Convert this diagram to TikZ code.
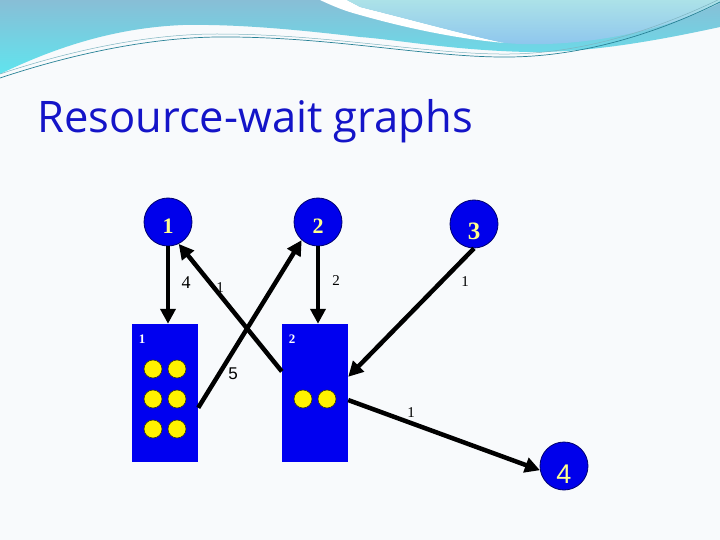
\documentclass[tikz,border=0pt]{standalone}
\usepackage{fontspec}
\setmainfont{Liberation Serif}
\newfontfamily\titlefont{Open Sans}
\newfontfamily\sansnum{Liberation Sans}
\usetikzlibrary{arrows.meta,calc}
\definecolor{bgc}{RGB}{248,250,252}
\definecolor{titleblue}{RGB}{20,20,200}
\definecolor{procblue}{RGB}{0,0,235}
\definecolor{resblue}{RGB}{0,0,240}
\definecolor{numyellow}{RGB}{255,255,140}
\definecolor{waveA}{RGB}{136,190,214}
\definecolor{waveB}{RGB}{96,228,238}
\definecolor{blobA}{RGB}{172,226,232}
\definecolor{blobB}{RGB}{140,196,238}
\definecolor{linec}{RGB}{40,130,150}
\tikzset{
  proc/.style={circle, fill=procblue, draw={rgb,255:red,0;green,0;blue,110}, line width=0.8pt, minimum size=48pt, inner sep=0pt},
  ctext/.style={text=numyellow, inner sep=0pt, font=\bfseries\fontsize{22}{22}\selectfont},
  res/.style={rectangle, fill=resblue, minimum width=66pt, minimum height=138pt, inner sep=0pt},
  edge/.style={line width=4.5pt, -{Triangle[length=15pt,width=15pt]}},
  lab/.style={font=\fontsize{15}{15}\selectfont, inner sep=0pt},
  biglab/.style={font=\fontsize{18}{18}\selectfont, inner sep=0pt},
  reslab/.style={font=\bfseries\fontsize{13}{13}\selectfont, text=white, inner sep=0pt},
  dot/.style={fill=yellow, draw={rgb,255:red,60;green,60;blue,0}, line width=0.6pt}
}
\begin{document}
\begin{tikzpicture}[x=1pt,y=-1pt]
\useasboundingbox (0,0) rectangle (720,540);
\fill[bgc] (0,0) rectangle (720,540);
% top wave
\shade[top color=waveA, bottom color=waveB]
  (0,0) -- (720,0) -- (720,27)
  .. controls (660,40) and (590,53) .. (527,52)
  .. controls (450,50) and (400,40) .. (360,37)
  .. controls (300,30) and (240,24) .. (183,25)
  .. controls (110,28) and (50,50) .. (0,74) -- cycle;
\fill[white] (320,0) .. controls (335,7) and (345,11) .. (360,15)
  .. controls (420,32) and (470,40) .. (505,43)
  .. controls (470,36) and (420,22) .. (360,7)
  .. controls (355,4) and (350,2) .. (347,0) -- cycle;
\shade[top color=blobA, bottom color=blobB]
  (347,0) .. controls (350,2) and (355,4) .. (360,7)
  .. controls (420,22) and (470,36) .. (505,43)
  .. controls (560,48) and (650,38) .. (720,3) -- (720,0) -- cycle;
\draw[linec, line width=0.7pt] (0,78) .. controls (60,58) and (140,38) .. (217,37)
  .. controls (330,36) and (430,58) .. (510,57) .. controls (600,56) and (680,22) .. (720,2);
\draw[linec!60, line width=0.5pt] (0,74) .. controls (60,54) and (140,34) .. (217,34)
  .. controls (330,34) and (430,55) .. (510,54) .. controls (600,53) and (680,18) .. (720,-1);
% title
\node[anchor=base west, inner sep=0pt, text=titleblue, font=\titlefont\fontsize{43.5}{43.5}\selectfont] (title) at (37,133) {Resource-wait graphs};
% processes
\node[proc] (c1) at (168,222) {};
\node[proc] (c2) at (318,222) {};
\node[proc] (c3) at (474,224) {};
\node[proc] (c4) at (564,466) {};
\node[ctext] (t1) at (168,226) {1};
\node[ctext] (t2) at (318,226) {2};
\node[ctext, font=\bfseries\fontsize{25}{25}\selectfont] (t3) at (474,231) {3};
\node[ctext, font=\sansnum\fontsize{27}{27}\selectfont] (t4) at (564,474) {4};
% resources
\node[res] (r1) at (165,393) {};
\node[res] (r2) at (315,393) {};
\node[reslab] (r1l) at (142,339) {1};
\node[reslab] (r2l) at (292,339) {2};
\foreach \yy in {369,399,429}{
  \draw[dot] (153,\yy) circle (9);
  \draw[dot] (177,\yy) circle (9);
}
\draw[dot] (303,399) circle (9);
\draw[dot] (327,399) circle (9);
% edges
\draw[edge] (c1.south) -- (c1.south |- r1.north);
\draw[edge] (c2.south) -- (c2.south |- r2.north);
\draw[edge] (r2.147) -- (c1.-64);
\draw[edge] (r1.-24) -- (c2.-132);
\draw[edge] (c3.south) -- (r2.26);
\draw[edge] (r2.-12) -- (c4.190);
% edge labels
\node[biglab] (l4) at (186,283) {4};
\node[lab] (l1a) at (220,288) {1};
\node[lab] (l2) at (336,281) {2};
\node[lab] (l1b) at (465,282) {1};
\node[biglab, font=\sansnum\fontsize{17}{17}\selectfont] (l5) at (233,374) {5};
\node[lab] (l1c) at (411,413) {1};
\end{tikzpicture}
\end{document}
